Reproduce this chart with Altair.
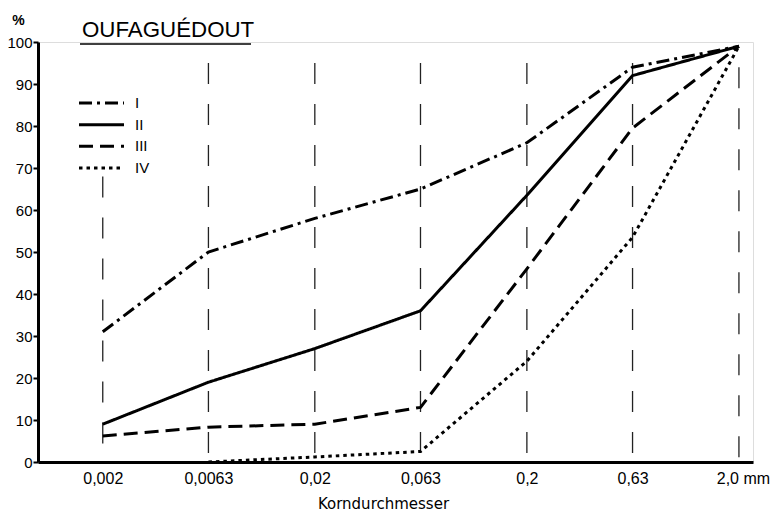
import altair as alt
import pandas as pd

# grain size classes (mm) and their tick labels
sizes = [0.002, 0.0063, 0.02, 0.063, 0.2, 0.63, 2.0]
size_labels = ["0,002", "0,0063", "0,02", "0,063", "0,2", "0,63", "2,0 mm"]

# cumulative percentages
series_names = ["I", "II", "III", "IV"]
values_I = [31, 50, 58, 65, 76, 94, 99]
values_II = [9, 19, 27, 36, 63.5, 92, 99]
values_III = [6.2, 8.3, 9, 13, 46, 79.5, 99]
values_IV = [None, 0, 1.2, 2.5, 24, 53.5, 99]

# vertical guide lines (top end of each dashed line, in %)
grid_tops = [68, 95, 95, 95, 95, 95, 94]

rows = []
for name, vals in zip(series_names, [values_I, values_II, values_III, values_IV]):
    for s, v in zip(sizes, vals):
        if v is not None:
            rows.append({"series": name, "size": s, "value": v})
df = pd.DataFrame(rows)
grid_df = pd.DataFrame({"size": sizes, "top": grid_tops, "bottom": [0] * len(sizes)})
legend_df = pd.DataFrame({"series": series_names})

FONT = "Liberation Sans"

label_expr = " : ".join(
    f"datum.value == {s} ? '{l}'" for s, l in zip(sizes, size_labels)
) + " : ''"

xscale = alt.Scale(type="log", domain=[0.00099, 2.33], nice=False)
yscale = alt.Scale(domain=[0, 100], nice=False)
dash_scale = alt.Scale(
    domain=series_names,
    range=[[13, 5, 3, 5], [1, 0], [14, 7], [3.5, 4]],
)

grid = alt.Chart(grid_df).mark_rule(
    color="#222", strokeWidth=1.3, strokeDash=[21, 20]
).encode(
    x=alt.X("size:Q", scale=xscale),
    y=alt.Y("top:Q", scale=yscale, axis=None),
    y2="bottom:Q",
)

lines = alt.Chart(df).mark_line(color="black", strokeWidth=3).encode(
    x=alt.X(
        "size:Q",
        scale=xscale,
        title="Korndurchmesser",
        axis=alt.Axis(
            values=sizes,
            labelExpr=label_expr,
            grid=False,
            ticks=False,
            domainColor="black",
            domainWidth=3,
            labelFont=FONT,
            labelFontSize=16,
            labelColor="black",
            labelPadding=8,
            labelOffset={"condition": {"test": "datum.value == 2", "value": 4}, "value": 0},
            labelFlush=False,
            labelOverlap=False,
            titleFont="DejaVu Sans",
            titleFontSize=15,
            titleFontWeight="normal",
            titleColor="black",
            titleX=345,
            titleY=34,
        ),
    ),
    y=alt.Y(
        "value:Q",
        scale=yscale,
        title="%",
        axis=alt.Axis(
            values=[0, 10, 20, 30, 40, 50, 60, 70, 80, 90, 100],
            grid=False,
            tickSize=5,
            tickWidth=2,
            tickColor="black",
            domainColor="black",
            domainWidth=3,
            labelFont=FONT,
            labelFontSize=15,
            labelColor="black",
            labelPadding=1,
            titleFont=FONT,
            titleFontSize=14,
            titleFontWeight="bold",
            titleColor="black",
            titleAngle=0,
            titleAlign="center",
            titleBaseline="middle",
            titleX=-20,
            titleY=-22,
        ),
    ),
    strokeDash=alt.StrokeDash("series:N", scale=dash_scale, legend=None),
    order="size:Q",
)

legend_y = alt.Y(
    "series:N",
    scale=alt.Scale(type="point", domain=series_names, range=[61, 126], padding=0),
    axis=None,
)

legend_rules = alt.Chart(legend_df).mark_rule(color="black", strokeWidth=3).encode(
    x=alt.value(41),
    x2=alt.value(86),
    y=legend_y,
    strokeDash=alt.StrokeDash("series:N", scale=dash_scale, legend=None),
)

legend_text = alt.Chart(legend_df).mark_text(
    font=FONT, fontSize=15, align="left", baseline="middle", color="black"
).encode(
    x=alt.value(97),
    y=legend_y,
    text="series:N",
)

title_text = alt.Chart(pd.DataFrame({"t": ["OUFAGUÉDOUT"]})).mark_text(
    font=FONT, fontSize=22.3, align="left", baseline="alphabetic", color="black"
).encode(x=alt.value(44), y=alt.value(-5), text="t:N")

underline = alt.Chart(pd.DataFrame({"t": [1]})).mark_rule(
    color="black", strokeWidth=1.5
).encode(x=alt.value(42), x2=alt.value(213), y=alt.value(2))

chart = alt.layer(
    grid, lines, legend_rules, legend_text, title_text, underline
).resolve_scale(y="independent").properties(
    width=715,
    height=420,
    autosize=alt.AutoSizeParams(type="none"),
    padding={"left": 30, "top": 34, "right": 17, "bottom": 51},
).configure_view(stroke=None).configure(background="white")

chart.save("out.html", embed_options={"renderer": "svg", "actions": False})
